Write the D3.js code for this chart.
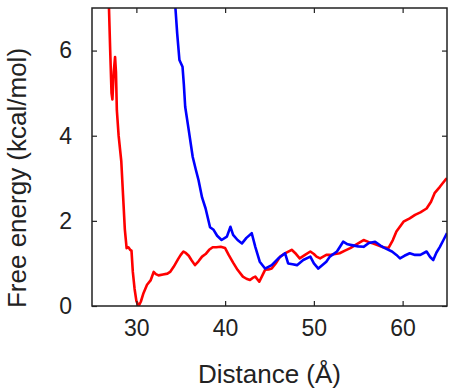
<!DOCTYPE html>
<html>
<head>
<meta charset="utf-8">
<script src="https://cdn.jsdelivr.net/npm/d3@7"></script>
<style>
  body { margin: 0; background: #fff; }
  text { font-family: "Liberation Sans", Arial, sans-serif; fill: #222; }
</style>
</head>
<body>
<div id="chart"></div>
<script>
// red profile
var redDist = [26.9, 27.05, 27.2, 27.3, 27.45, 27.6, 27.7, 27.8, 28.0, 28.3, 28.5, 28.7, 28.9, 29.1, 29.3, 29.45,
  29.6, 29.8, 30.0, 30.25, 30.5, 30.8, 31.2, 31.6, 31.95, 32.2, 32.5, 33.0, 33.5, 33.8, 34.2, 34.7, 35.0, 35.3,
  35.6, 35.9, 36.2, 36.6, 37.0, 37.4, 37.8, 38.2, 38.6, 39.0, 39.5, 40.0, 40.4, 40.9, 41.4, 42.0, 42.4, 42.8,
  43.1, 43.4, 43.85, 44.2, 44.5, 44.9, 45.25, 45.7, 46.2, 46.8, 47.5, 48.0, 48.4, 49.0, 49.6, 50.0, 50.3, 50.7,
  51.4, 51.8, 52.4, 52.9, 53.5, 54.1, 54.8, 55.6, 56.2, 56.7, 57.3, 57.8, 58.4, 58.9, 59.3, 60.1, 60.8, 61.4,
  62.0, 62.7, 63.2, 63.6, 64.2, 64.8, 65.0];
var redEnergy = [7.1, 6.0, 5.0, 4.85, 5.5, 5.85, 5.5, 4.6, 4.0, 3.4, 2.6, 1.8, 1.36, 1.38, 1.32, 1.3,
  0.8, 0.4, 0.12, 0.0, 0.1, 0.3, 0.5, 0.6, 0.8, 0.75, 0.72, 0.74, 0.76, 0.8, 0.92, 1.1, 1.2, 1.28,
  1.24, 1.18, 1.08, 0.96, 1.05, 1.16, 1.22, 1.32, 1.38, 1.38, 1.39, 1.36, 1.2, 1.02, 0.85, 0.69, 0.64, 0.61,
  0.66, 0.69, 0.57, 0.72, 0.85, 0.86, 0.88, 1.0, 1.16, 1.24, 1.32, 1.22, 1.12, 1.2, 1.28, 1.22, 1.16, 1.12,
  1.2, 1.2, 1.22, 1.24, 1.3, 1.36, 1.45, 1.55, 1.5, 1.47, 1.42, 1.38, 1.36, 1.55, 1.75, 1.98, 2.06, 2.14,
  2.2, 2.29, 2.45, 2.65, 2.8, 2.96, 3.0];

// blue profile
var blueDist = [34.3, 34.4, 34.6, 34.85, 35.2, 35.35, 35.5, 35.9, 36.35, 36.7, 37.0, 37.4, 37.8, 38.3, 38.7,
  39.1, 39.6, 40.2, 40.6, 40.9, 41.4, 41.9, 42.4, 43.0, 43.4, 43.9, 44.5, 45.25, 46.0, 46.75, 47.1, 47.6,
  48.1, 48.8, 49.6, 50.0, 50.5, 50.9, 51.4, 51.8, 52.6, 53.3, 53.8, 54.25, 55.0, 55.6, 56.2, 56.9, 57.5,
  58.0, 58.8, 59.3, 59.7, 60.2, 60.8, 61.4, 62.0, 62.7, 63.1, 63.45, 63.8, 64.2, 64.6, 65.0];
var blueEnergy = [7.3, 7.0, 6.4, 5.78, 5.62, 5.2, 4.68, 4.13, 3.5, 3.2, 2.96, 2.55, 2.29, 1.85, 1.79,
  1.65, 1.55, 1.63, 1.86, 1.67, 1.55, 1.47, 1.6, 1.71, 1.39, 1.04, 0.88, 0.96, 1.12, 1.24, 1.0, 0.98,
  0.96, 1.08, 1.16, 1.0, 0.88, 0.95, 1.04, 1.16, 1.28, 1.51, 1.45, 1.43, 1.4, 1.39, 1.48, 1.51, 1.42,
  1.36, 1.28, 1.2, 1.12, 1.18, 1.24, 1.2, 1.2, 1.28, 1.15, 1.08, 1.25, 1.39, 1.55, 1.71];

var xTicks = [30, 40, 50, 60];
var yTicks = [0, 2, 4, 6];

var width = 458, height = 392;
var margin = {top: 8, right: 11, bottom: 86, left: 92};
var w = width - margin.left - margin.right;
var h = height - margin.top - margin.bottom;

var svg = d3.select("#chart").append("svg").attr("width", width).attr("height", height);
var g = svg.append("g").attr("transform", `translate(${margin.left},${margin.top})`);

var x = d3.scaleLinear().domain([25, 65]).range([0, w]);
var y = d3.scaleLinear().domain([0, 7]).range([h, 0]);

svg.append("defs").append("clipPath").attr("id", "clip")
  .append("rect").attr("width", w).attr("height", h);

var line = d3.line().x(d => x(d[0])).y(d => y(d[1]));

var series = [
  {color: "#ff0000", pts: d3.zip(redDist, redEnergy)},
  {color: "#0000ff", pts: d3.zip(blueDist, blueEnergy)}
];

g.append("g").attr("clip-path", "url(#clip)")
  .selectAll("path.curve").data(series).enter().append("path")
  .attr("class", "curve")
  .attr("d", d => line(d.pts))
  .attr("fill", "none")
  .attr("stroke", d => d.color)
  .attr("stroke-width", 2.6)
  .attr("stroke-linejoin", "round");

// axes: inward ticks on all four sides
var tickStyle = sel => {
  sel.select(".domain").remove();
  sel.selectAll(".tick line").attr("stroke", "#222").attr("stroke-width", 1.2);
  sel.selectAll("text").style("font-size", "23px").attr("fill", "#222");
};

g.append("g").attr("transform", `translate(0,${h})`)
  .call(d3.axisBottom(x).tickValues(xTicks).tickSizeInner(-5).tickSizeOuter(0).tickPadding(14).tickFormat(d3.format("d")))
  .call(tickStyle);
g.append("g")
  .call(d3.axisTop(x).tickValues(xTicks).tickSizeInner(-5).tickSizeOuter(0).tickFormat(""))
  .call(tickStyle);
g.append("g")
  .call(d3.axisLeft(y).tickValues(yTicks).tickSizeInner(-5).tickSizeOuter(0).tickPadding(20).tickFormat(d3.format("d")))
  .call(tickStyle);
g.append("g").attr("transform", `translate(${w},0)`)
  .call(d3.axisRight(y).tickValues(yTicks).tickSizeInner(-5).tickSizeOuter(0).tickFormat(""))
  .call(tickStyle);

g.append("rect").attr("width", w).attr("height", h)
  .attr("fill", "none").attr("stroke", "#222").attr("stroke-width", 1.5);

svg.append("text")
  .attr("x", margin.left + w / 2).attr("y", 383)
  .attr("text-anchor", "middle").style("font-size", "26px")
  .text("Distance (Å)");

svg.append("text")
  .attr("transform", `translate(26,${margin.top + 170}) rotate(-90)`)
  .attr("text-anchor", "middle").style("font-size", "26px")
  .text("Free energy (kcal/mol)");
</script>
</body>
</html>
